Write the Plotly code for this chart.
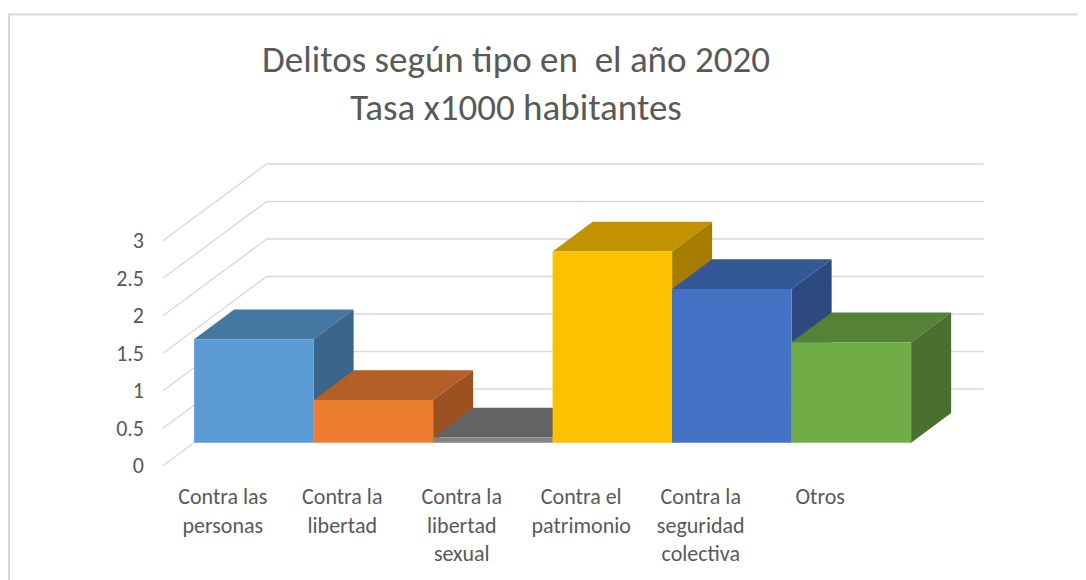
import plotly.graph_objects as go

# ---------------- data ----------------
categories = ["Contra las personas", "Contra la libertad", "Contra la libertad sexual",
              "Contra el patrimonio", "Contra la seguridad colectiva", "Otros"]
tick_labels = ["Contra las<br>personas", "Contra la<br>libertad", "Contra la<br>libertad<br>sexual",
               "Contra el<br>patrimonio", "Contra la<br>seguridad<br>colectiva", "Otros"]
values = [1.38, 0.57, 0.07, 2.55, 2.05, 1.34]
y_ticks = [0, 0.5, 1, 1.5, 2, 2.5, 3]
y_tick_labels = ["0", "0.5", "1", "1.5", "2", "2.5", "3"]
title_lines = ["Delitos según tipo en \u00a0el año 2020", "Tasa x1000 habitantes"]

# ---------------- style ----------------
front_colors = ["#5B9BD5", "#ED7D31", "#848484", "#FFC000", "#4472C4", "#70AD47"]
top_colors = ["#4676A2", "#B45F25", "#636363", "#C29200", "#345795", "#558335"]
side_colors = ["#3B658A", "#9B5220", "#555555", "#A67D00", "#2C4A80", "#49702E"]
grid_color = "#D9D9D9"
text_color = "#595959"
FONT = "Carlito, Calibri, Lato, sans-serif"

# ---------------- geometry (pixels, page coords minus body margin) ----------------
OFF = 8                    # default HTML body margin
W, H = 1086 - OFF, 580 - OFF
X0, CW = 163.0 - OFF, 119.5     # front-left of category 0, px per category
Y0, VH = 465.7 - OFF, 75.0      # front value 0, px per unit
DXP, DYP = 103.7, 76.7          # full depth offset of walls
T0, T1 = 0.30, 0.686            # bar depth range (fraction of full depth)
L, R, T, B = 150 - OFF, 995 - OFF, 150 - OFF, 472 - OFF
DX, DY = DXP / CW, DYP / VH
xr = [(L - X0) / CW, (R - X0) / CW]
yr = [(Y0 - B) / VH, (Y0 - T) / VH]
n = len(values)

fig = go.Figure()

# walls gridlines
for v in y_ticks:
    fig.add_trace(go.Scatter(x=[0, DX, n + DX], y=[v, v + DY, v + DY], mode="lines",
                             line=dict(color=grid_color, width=1.4),
                             hoverinfo="skip", showlegend=False))

# top and side faces (painter's order left to right)
for i, v in enumerate(values):
    xs_top = [i + T0 * DX, i + 1 + T0 * DX, i + 1 + T1 * DX, i + T1 * DX, i + T0 * DX]
    ys_top = [v + T0 * DY, v + T0 * DY, v + T1 * DY, v + T1 * DY, v + T0 * DY]
    fig.add_trace(go.Scatter(x=xs_top, y=ys_top, mode="lines", fill="toself",
                             fillcolor=top_colors[i], line=dict(width=0),
                             hoverinfo="skip", showlegend=False))
    xs_side = [i + 1 + T0 * DX, i + 1 + T1 * DX, i + 1 + T1 * DX, i + 1 + T0 * DX, i + 1 + T0 * DX]
    ys_side = [T0 * DY, T1 * DY, v + T1 * DY, v + T0 * DY, T0 * DY]
    fig.add_trace(go.Scatter(x=xs_side, y=ys_side, mode="lines", fill="toself",
                             fillcolor=side_colors[i], line=dict(width=0),
                             hoverinfo="skip", showlegend=False))

# front faces as bars on an overlaying axis pair (drawn above the faces)
fig.add_trace(go.Bar(x=[i + 0.5 + T0 * DX for i in range(n)], y=values, base=T0 * DY,
                     width=1.0, marker=dict(color=front_colors, line=dict(width=0)),
                     customdata=categories, hovertemplate="%{customdata}: %{y}<extra></extra>",
                     xaxis="x2", yaxis="y2", showlegend=False))

# chart area border
def px_to_paper(px, py):
    return (px - L) / (R - L), (B - py) / (B - T)

bx0, by0 = px_to_paper(1, 600)
bx1, by1 = px_to_paper(1, 14.5 - OFF)
bx2, by2 = px_to_paper(1100, 14.5 - OFF)
fig.add_shape(type="path", xref="paper", yref="paper",
              path=f"M {bx0} {by0} L {bx1} {by1} L {bx2} {by2}",
              line=dict(color=grid_color, width=2))

fig.update_layout(
    width=W, height=H,
    margin=dict(l=L, r=W - R, t=T, b=H - B, pad=0),
    paper_bgcolor="white", plot_bgcolor="white",
    showlegend=False,
    font=dict(family=FONT, color=text_color, size=22),
    title=dict(text="<br>".join(title_lines), x=(516 - OFF) / W, xanchor="center",
               y=1 - (72 - OFF) / H, yanchor="middle", xref="container", yref="container",
               font=dict(family=FONT, size=37, color=text_color)),
    xaxis=dict(range=xr, tickvals=[i + 0.5 for i in range(n)], ticktext=tick_labels,
               showgrid=False, zeroline=False, showline=False, ticks="",
               ticklabelstandoff=9, fixedrange=True,
               tickfont=dict(family=FONT, size=22, color=text_color)),
    yaxis=dict(range=yr, tickvals=y_ticks, ticktext=y_tick_labels,
               showgrid=False, zeroline=False, showline=False, ticks="",
               ticklabelstandoff=5, fixedrange=True,
               tickfont=dict(family=FONT, size=22, color=text_color)),
    xaxis2=dict(range=xr, overlaying="x", visible=False, fixedrange=True),
    yaxis2=dict(range=yr, overlaying="y", visible=False, fixedrange=True),
)

fig.write_html("out.html")
